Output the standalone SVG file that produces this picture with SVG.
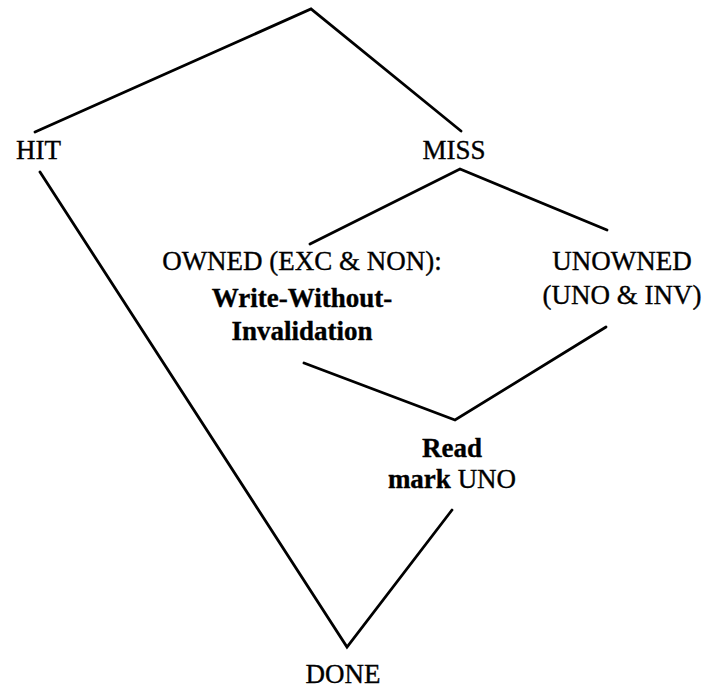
<svg xmlns="http://www.w3.org/2000/svg" width="704" height="689" viewBox="0 0 704 689">
  <style>
    .lbl { font-family: "Liberation Serif", "DejaVu Serif", serif; font-size: 27px; fill: #000; stroke: #000; stroke-width: 0.35; text-anchor: middle; }
    .b { font-weight: bold; }
    .edge { fill: none; stroke: #000; stroke-width: 2.8; stroke-linecap: round; stroke-linejoin: miter; }
  </style>
  <rect width="704" height="689" fill="#fff"/>

  <!-- connectors: each polyline is a pair of edges meeting at a shared vertex -->
  <g id="connectors">
    <polyline class="edge" points="35,132 311,9 461,131"/>
    <polyline class="edge" points="310,244 460,169 607,230"/>
    <polyline class="edge" points="304,363 455,420 606,327"/>
    <polyline class="edge" points="40,172 347,647 452,510"/>
  </g>

  <g id="hit"><text class="lbl" x="38.5" y="159">HIT</text></g>
  <g id="miss"><text class="lbl" x="454" y="159">MISS</text></g>
  <g id="owned">
    <text class="lbl" x="302" y="270">OWNED (EXC &amp; NON):</text>
    <text class="lbl b" x="302" y="307">Write-Without-</text>
    <text class="lbl b" x="302" y="340">Invalidation</text>
  </g>
  <g id="unowned">
    <text class="lbl" x="622" y="270">UNOWNED</text>
    <text class="lbl" x="622" y="304">(UNO &amp; INV)</text>
  </g>
  <g id="read">
    <text class="lbl b" x="452" y="457">Read</text>
    <text class="lbl" x="452" y="488"><tspan class="b">mark</tspan> UNO</text>
  </g>
  <g id="done"><text class="lbl" x="343" y="683">DONE</text></g>
</svg>
